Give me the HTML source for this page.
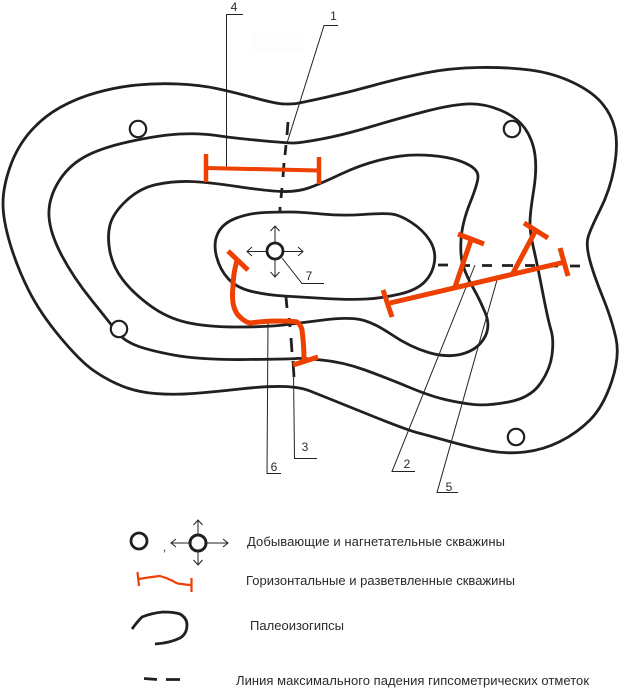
<!DOCTYPE html>
<html>
<head>
<meta charset="utf-8">
<style>
html,body{margin:0;padding:0;background:#fff;}
svg{display:block;}
text{font-family:"Liberation Sans",sans-serif;fill:#2a2a2a;}
</style>
</head>
<body>
<svg xmlns="http://www.w3.org/2000/svg" width="623" height="689" viewBox="0 0 623 689">
<rect width="623" height="689" fill="#fff"/>
<rect x="251" y="31" width="54" height="21" fill="#fdfdfd"/>

<g fill="none" stroke="#231f20" stroke-width="2.8" stroke-linejoin="round" stroke-linecap="round">
<path d="M285,104 Q293,104 296.5,103.5 Q300,103 325,97.5 Q350,92 375,85 Q400,78 425,73 Q450,68 478.5,67.5 Q507,67 530,70 Q553,73 573,82.5 Q593,92 603,104.5 Q613,117 615.5,132 Q618,147 614,168.5 Q610,190 600,210 Q590,230 588,237.5 Q586,245 589.5,259 Q593,273 602.5,296.5 Q612,320 616,338.5 Q620,357 611.5,382 Q603,407 590,420 Q577,433 560,441.5 Q543,450 525,452 Q507,454 490,451 Q473,448 451.5,442 Q430,436 418.5,433 Q407,430 373.5,416.5 Q340,403 330,399 Q320,395 310,391 Q300,387 283.5,386.5 Q267,386 240,389 Q213,392 193,393.5 Q173,395 155,393.5 Q137,392 122,386 Q107,380 93.5,370.5 Q80,361 60,337 Q40,313 28.5,290 Q17,267 10,243.5 Q3,220 3,203.5 Q3,187 10,167 Q17,147 30,132 Q43,117 60,107.5 Q77,98 97,92.5 Q117,87 137,85 Q157,83 178.5,84 Q200,85 216.5,88.5 Q233,92 255,98 Q277,104 285,104Z"/>
<path d="M293.5,143 Q300,143 321.5,139 Q343,135 371.5,126.5 Q400,118 425,111.5 Q450,105 466.5,104 Q483,103 500,110 Q517,117 525,128.5 Q533,140 535,155 Q537,170 533.5,191.5 Q530,213 530,223 Q530,233 533.5,248 Q537,263 542.5,291.5 Q548,320 551,330 Q554,340 552,355 Q550,370 540,384 Q530,398 508.5,402 Q487,406 473.5,404.5 Q460,403 445,399.5 Q430,396 408.5,387 Q387,378 365,370 Q343,362 321.5,360 Q300,358 296.5,358.5 Q293,359 246.5,359.5 Q200,360 173.5,355 Q147,350 135,345 Q123,340 116.5,331.5 Q110,323 91.5,300 Q73,277 61.5,255 Q50,233 49,216.5 Q48,200 57.5,183.5 Q67,167 83.5,157.5 Q100,148 130,141.5 Q160,135 180,134 Q200,133 216.5,135.5 Q233,138 260,140.5 Q287,143 293.5,143Z"/>
<path d="M340,174.5 Q360,165 380,160 Q400,155 416.5,155 Q433,155 446.5,157.5 Q460,160 469,165 Q478,170 478,176.5 Q478,183 470,203 Q462,223 461,240 Q460,257 463.5,267 Q467,277 473.5,288.5 Q480,300 485.5,313.5 Q491,327 484,338.5 Q477,350 462,354 Q447,358 428.5,352.5 Q410,347 391.5,334.5 Q373,322 360,319.5 Q347,317 323.5,320 Q300,323 283.5,325 Q267,327 237,327 Q207,327 187,322.5 Q167,318 150,305.5 Q133,293 123,280 Q113,267 110,252 Q107,237 110,225 Q113,213 126.5,200.5 Q140,188 156.5,184.5 Q173,181 190,181.5 Q207,182 237,186.5 Q267,191 282,191.5 Q297,192 308.5,188 Q320,184 340,174.5Z"/>
<path d="M290,212 Q300,212 321.5,214 Q343,216 363,214.5 Q383,213 391.5,214 Q400,215 411.5,222.5 Q423,230 429.5,240 Q436,250 434.5,261.5 Q433,273 425,281.5 Q417,290 400,294 Q383,298 366.5,299 Q350,300 325,298.5 Q300,297 283.5,296 Q267,295 252,291.5 Q237,288 228.5,279 Q220,270 216.5,256.5 Q213,243 218,233 Q223,223 236.5,218 Q250,213 265,212.5 Q280,212 290,212Z"/>
</g>

<!-- thin leaders -->
<g fill="none" stroke="#222" stroke-width="1">
<path d="M226.5,168 V14.5 H243"/>
<path d="M287,143 L324,25.5 H338"/>
<path d="M293.5,372 L294.5,458.5 H317"/>
<path d="M268,323 L267,473.5 H281"/>
<path d="M475,265 L392,471.5 H415"/>
<path d="M497,280 L437,492.5 H458"/>
<path d="M282,258 L302,283.5 H324"/>
</g>

<!-- black dashes -->
<g fill="none" stroke="#231f20" stroke-width="2.8">
<path d="M288,122 L287,135 M286,145 L285,155 M284,163 L283,177 M282,188 L281,198 M280,207 L280,213"/>
<path d="M286,297 L287,308 M289,318 L290,327 M291,338 L292,352 M293,361 L294,377"/>
<path d="M438,265 H448 M460,265.5 H470 M482,265.5 H492 M502,265.5 H513 M525,265.5 H535 M547,266 H558 M570,266 H580"/>
</g>

<!-- wells -->
<g fill="#fff" stroke="#231f20" stroke-width="2.2">
<circle cx="138" cy="129" r="8.2"/>
<circle cx="512" cy="129" r="8.2"/>
<circle cx="119" cy="329" r="8.2"/>
<circle cx="516" cy="437" r="8.2"/>
</g>

<!-- centre injection well -->
<g fill="none" stroke="#222" stroke-width="1">
<path d="M247,251.5 H267 M283,251.5 H303 M275,226 V243 M275,259 V277"/>
<path d="M252,247 L247,251.5 L252,256 M298,247 L303,251.5 L298,256 M270.5,231 L275,226 L279.5,231 M270.5,272 L275,277 L279.5,272"/>
</g>
<circle cx="275" cy="251" r="8" fill="#fff" stroke="#231f20" stroke-width="2.8"/>

<!-- orange horizontal wells -->
<g fill="none" stroke="#ee4000" stroke-linejoin="round">
<path d="M206,168 L319,170.5" stroke-width="4"/>
<path d="M206,154 V182 M319,157 V184" stroke-width="4.5"/>
<path d="M390,303 L565,262" stroke-width="5"/>
<path d="M383,290 L392,317 M560,248 L568,276" stroke-width="5"/>
<path d="M455,287 L471,240 M513,273 L536,230" stroke-width="5"/>
<path d="M458,234 L484,244 M524,223 L548,238" stroke-width="5"/>
<path d="M228,251 L248,270" stroke-width="5"/>
<path d="M237,260 Q233,275 233,287 Q232,295 233,303 Q235,313 240,317 Q245,322 250,323 Q265,321 277,321 Q292,321 297,322 Q301,325 302,330 Q304,345 304,360" stroke-width="5"/>
<path d="M293,365 L318,357" stroke-width="5"/>
</g>

<!-- numbers -->
<g font-size="12" text-anchor="middle">
<text x="234" y="11">4</text>
<text x="333.5" y="20">1</text>
<text x="305" y="451">3</text>
<text x="274" y="471">6</text>
<text x="407" y="468">2</text>
<text x="449" y="491">5</text>
<text x="309" y="280">7</text>
</g>

<!-- legend -->
<circle cx="139" cy="541" r="8" fill="#fff" stroke="#231f20" stroke-width="2.8"/>
<text x="163" y="551" font-size="11">,</text>
<g fill="none" stroke="#222" stroke-width="1">
<path d="M171,543 H190 M206,543 H228 M198,520 V535 M198,551 V565"/>
<path d="M176,539 L171,543 L176,547 M223,539 L228,543 L223,547 M193.5,525 L198,520 L202.5,525 M193.5,560 L198,565 L202.5,560"/>
</g>
<circle cx="198" cy="543" r="8" fill="#fff" stroke="#231f20" stroke-width="3"/>
<g fill="none" stroke="#ee4000" stroke-width="2.2">
<path d="M137.5,572 L139,586"/>
<path d="M139,579 Q150,577 160,576 Q167,578 173,581 Q177,584 182,584 Q187,585 192,585"/>
<path d="M191.5,578 V592"/>
</g>
<path d="M132,629 Q137,622 142,617 Q152,613 163,612 Q174,612 180,614 Q187,618 187,625 Q187,634 180,638 Q170,643 155,644" fill="none" stroke="#231f20" stroke-width="2.8"/>
<path d="M144,678.5 L157,679.5 M166,679.5 H180" fill="none" stroke="#231f20" stroke-width="2.8"/>

<g font-size="13">
<text x="247" y="546" textLength="258" lengthAdjust="spacing">Добывающие и нагнетательные скважины</text>
<text x="246" y="585" textLength="269" lengthAdjust="spacing">Горизонтальные и разветвленные скважины</text>
<text x="250" y="630" textLength="94" lengthAdjust="spacing">Палеоизогипсы</text>
<text x="236" y="685" textLength="353" lengthAdjust="spacing">Линия максимального падения гипсометрических отметок</text>
</g>
</svg>
</body>
</html>
